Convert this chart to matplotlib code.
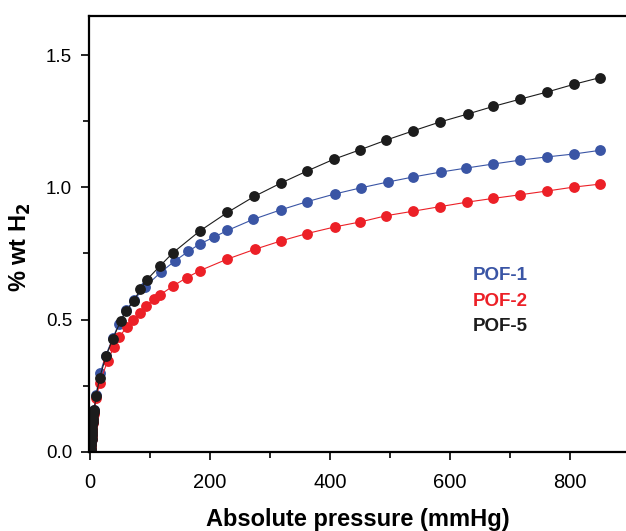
import matplotlib.pyplot as plt
import numpy as np

plt.rcParams['font.family'] = ['Liberation Sans', 'DejaVu Sans']

# low-pressure region (dense cluster of points near the origin)
low_x = [1.5, 2, 2.3, 2.6, 2.9, 3.2, 3.5, 3.8, 4.1, 4.5, 5, 5.5, 6.2]
low_y = [0.0, 0.012, 0.025, 0.038, 0.05, 0.063, 0.076, 0.088, 0.1, 0.113, 0.126, 0.138, 0.15]

# POF-1 (blue)
p1_x = low_x + [7, 10, 17, 26, 38, 48, 60, 74, 92, 118, 141, 164, 183, 206, 229,
                272, 318, 362, 408, 451, 496, 538, 585, 627, 671, 717, 761, 806, 850]
p1_y = low_y + [0.16, 0.214, 0.297, 0.363, 0.429, 0.484, 0.535, 0.576,
                0.624, 0.679, 0.721, 0.758, 0.786, 0.811, 0.837, 0.879, 0.915, 0.946, 0.975, 0.998,
                1.020, 1.039, 1.058, 1.073, 1.088, 1.103, 1.115, 1.126, 1.140]

# POF-2 (red)
p2_x = low_x + [7, 10.5, 16, 29.5, 39.5, 49, 61, 72, 83, 93, 107, 116, 139, 161, 183,
                228, 275, 319, 361, 409, 450, 494, 539, 583, 628, 671, 717, 761, 806, 849]
p2_y = [v * 0.95 for v in low_y] + [0.15, 0.202, 0.259, 0.344, 0.395, 0.435, 0.471, 0.498,
                0.526, 0.552, 0.578, 0.592, 0.628, 0.658, 0.685, 0.728, 0.766, 0.798, 0.825, 0.851,
                0.869, 0.893, 0.910, 0.927, 0.944, 0.958, 0.972, 0.986, 1.001, 1.012]

# POF-5 (black)
p5_x = low_x + [7, 10.5, 16, 27, 38, 51, 60, 73, 84, 95, 116, 138, 183, 229, 274,
                318, 362, 406, 450, 494, 539, 583, 629, 672, 716, 761, 807, 850]
p5_y = low_y + [0.16, 0.213, 0.279, 0.363, 0.426, 0.494, 0.531, 0.571,
                0.614, 0.651, 0.701, 0.752, 0.835, 0.905, 0.966, 1.016, 1.062, 1.106, 1.142, 1.179,
                1.214, 1.247, 1.277, 1.306, 1.333, 1.360, 1.390, 1.415]

names = ['POF-1', 'POF-2', 'POF-5']
colors = ['#3a55a5', '#ec2027', '#1c1c1c']

fig = plt.figure(figsize=(6.26, 5.31), dpi=100)
ax = fig.add_axes([0.142, 0.149, 0.858, 0.821])

for xs, ys, c in zip([p1_x, p2_x, p5_x], [p1_y, p2_y, p5_y], colors):
    ax.plot(xs, ys, '-o', color=c, lw=0.8, ms=7.8, mec=c, mew=0)

ax.set_xlim(-1.7, 893)
ax.set_ylim(0, 1.648)
ax.set_xticks([0, 200, 400, 600, 800])
ax.set_xticks([100, 300, 500, 700], minor=True)
ax.set_yticks([0, 0.5, 1.0, 1.5])
ax.set_yticklabels(['0.0', '0.5', '1.0', '1.5'])
ax.set_yticks([0.25, 0.75, 1.25], minor=True)
ax.tick_params(which='major', direction='out', length=6, width=1.2, pad=6)
ax.tick_params(axis='y', which='major', labelsize=13.5)
ax.tick_params(axis='x', which='major', labelsize=14.5, pad=9)
ax.tick_params(which='minor', direction='out', length=4, width=1.2)
for s in ['left', 'bottom', 'top']:
    ax.spines[s].set_linewidth(1.6)
ax.spines['right'].set_visible(False)

ax.set_xlabel('Absolute pressure (mmHg)', fontsize=17, fontweight='bold', labelpad=12)
ax.set_ylabel('% wt H$_\\mathbf{2}$', fontsize=17, fontweight='bold')
ax.yaxis.set_label_coords(-0.104, 0.47)

for i, (n, c) in enumerate(zip(names, colors)):
    ax.text(0.714, 0.404 - i * 0.058, n, color=c, fontsize=13.5, fontweight='bold',
            transform=ax.transAxes, va='center', ha='left')

fig.savefig('out.png', dpi=100)
